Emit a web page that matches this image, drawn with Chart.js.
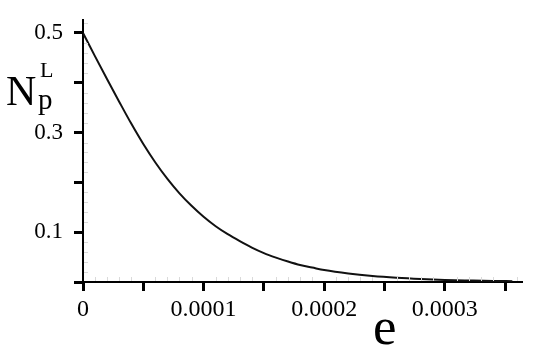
<!DOCTYPE html>
<html>
<head>
<meta charset="utf-8">
<script src="https://cdn.jsdelivr.net/npm/chart.js@4.4.1/dist/chart.umd.min.js"></script>
<style>
  html, body { margin: 0; padding: 0; background: #fff; }
  #wrap { position: relative; width: 540px; height: 355px; }
  #wrap canvas { position: absolute; left: 0; top: 0; }
  .lbl { position: absolute; font-family: "Liberation Serif", "DejaVu Serif", serif; line-height: 1; color: #000; white-space: nowrap; }
</style>
</head>
<body>
<div id="wrap">
  <canvas id="chart" width="540" height="355"></canvas>
  <span class="lbl" style="left:6px; top:70px; font-size:42px;">N</span>
  <span class="lbl" style="left:38px; top:85px; font-size:29px;">p</span>
  <span class="lbl" style="left:40px; top:59px; font-size:22px;">L</span>
  <span class="lbl" style="left:373px; top:300px; font-size:53px;">e</span>
</div>
<script>
// curve
const eValues = [0, 0.00001, 0.00002, 0.00003, 0.00004, 0.00005, 0.00006, 0.00007, 0.00008,
  0.00009, 0.0001, 0.00011, 0.00012, 0.00013, 0.00014, 0.00015, 0.00016, 0.00017, 0.00018,
  0.00019, 0.0002, 0.00022, 0.00024, 0.00026, 0.00028, 0.0003, 0.00032, 0.00034, 0.000356];
const npValues = [0.5, 0.453, 0.407, 0.362, 0.318, 0.277, 0.240, 0.207, 0.178,
  0.153, 0.131, 0.112, 0.096, 0.082, 0.069, 0.058, 0.049, 0.041, 0.034,
  0.029, 0.024, 0.017, 0.012, 0.0085, 0.006, 0.0042, 0.003, 0.002, 0.0017];

// labelled ticks (the other major ticks stay blank)
const xTickValues = [0, 0.0001, 0.0002, 0.0003];
const xTickLabels = ["0", "0.0001", "0.0002", "0.0003"];
const yTickValues = [0.1, 0.3, 0.5];
const yTickLabels = ["0.1", "0.3", "0.5"];

const serif = "'Liberation Serif', 'DejaVu Serif', serif";

function findLabel(value, values, labels, tol) {
  for (let i = 0; i < values.length; i++) {
    if (Math.abs(values[i] - value) < tol) return labels[i];
  }
  return "";
}

// small grey ticks between the major ones
const minorTicks = {
  id: "minorTicks",
  afterDraw(chart) {
    const ctx = chart.ctx;
    const xs = chart.scales.x;
    const ys = chart.scales.y;
    ctx.save();
    ctx.strokeStyle = "#dadada";
    ctx.lineWidth = 1;
    ctx.beginPath();
    for (let i = 1; i * 0.00001 < xs.max; i++) {
      if (i % 5 === 0) continue;
      const px = Math.round(xs.getPixelForValue(i * 0.00001)) + 0.5;
      ctx.moveTo(px, ys.bottom - 1);
      ctx.lineTo(px, ys.bottom - 5);
    }
    for (let j = 1; j * 0.02 < ys.max; j++) {
      if (j % 5 === 0) continue;
      const py = Math.round(ys.getPixelForValue(j * 0.02)) + 0.5;
      ctx.moveTo(xs.left + 1, py);
      ctx.lineTo(xs.left + 5, py);
    }
    ctx.stroke();
    ctx.restore();
  }
};

const points = eValues.map((e, i) => ({ x: e, y: npValues[i] }));

new Chart(document.getElementById("chart").getContext("2d"), {
  type: "line",
  data: {
    datasets: [{
      data: points,
      borderColor: "#111",
      borderWidth: 2,
      pointRadius: 0,
      cubicInterpolationMode: "monotone",
      fill: false
    }]
  },
  options: {
    responsive: false,
    animation: false,
    events: [],
    layout: { padding: { top: 20, right: 18, left: 0, bottom: 0 } },
    plugins: { legend: { display: false }, tooltip: { enabled: false } },
    scales: {
      x: {
        type: "linear",
        min: 0,
        max: 0.000364,
        afterFit: (scale) => {
          scale.height = 73;
          scale.paddingLeft = 0;
          scale.paddingRight = 0;
        },
        border: { display: true, color: "#000", width: 2 },
        grid: { drawOnChartArea: false, tickLength: 9, tickWidth: 3, tickColor: "#000", color: "#000" },
        ticks: {
          stepSize: 0.00005,
          includeBounds: false,
          autoSkip: false,
          maxRotation: 0,
          padding: 4,
          color: "#000",
          font: { family: serif, size: 24 },
          callback: (v) => findLabel(v, xTickValues, xTickLabels, 1e-7)
        }
      },
      y: {
        type: "linear",
        min: 0,
        max: 0.526,
        afterFit: (scale) => {
          scale.width = 83;
          scale.paddingTop = 0;
          scale.paddingBottom = 0;
        },
        border: { display: true, color: "#000", width: 2 },
        grid: { drawOnChartArea: false, tickLength: 9, tickWidth: 3, tickColor: "#000", color: "#000" },
        ticks: {
          stepSize: 0.1,
          includeBounds: false,
          autoSkip: false,
          padding: 11,
          color: "#000",
          font: { family: serif, size: 23 },
          callback: (v) => findLabel(v, yTickValues, yTickLabels, 1e-6)
        }
      }
    }
  },
  plugins: [minorTicks]
});
</script>
</body>
</html>
